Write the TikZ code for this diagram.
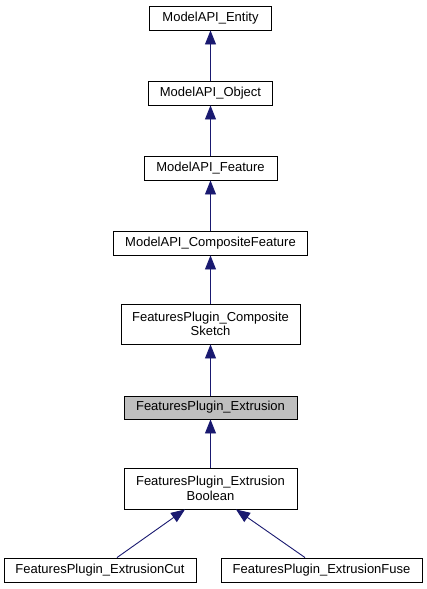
\documentclass[tikz,border=0pt]{standalone}
\usepackage{fontspec}
\setmainfont{Liberation Sans}
\usetikzlibrary{arrows.meta}
\definecolor{edgeblue}{HTML}{191970}
\definecolor{hlgray}{HTML}{BFBFBF}
\tikzset{
  cls/.style={draw=black, line width=0.9pt, fill=white, inner sep=0pt, align=center,
    font=\fontsize{13}{14.5}\selectfont},
  inh/.style={draw=edgeblue, line width=0.9pt,
    -{Triangle[length=14pt,width=11pt,fill=edgeblue]}},
}
\begin{document}
\begin{tikzpicture}[x=1pt,y=-1pt]
\useasboundingbox[fill=white] (0,0) rectangle (427,589);
\node[cls, minimum width=122pt, minimum height=24pt] (entity) at (210.5,18) {ModelAPI\_Entity};
\node[cls, minimum width=124pt, minimum height=24pt] (object) at (210.5,93) {ModelAPI\_Object};
\node[cls, minimum width=133pt, minimum height=24pt] (feature) at (210.5,168) {ModelAPI\_Feature};
\node[cls, minimum width=194pt, minimum height=24pt] (composite) at (210.5,243) {ModelAPI\_CompositeFeature};
\node[cls, minimum width=179pt, minimum height=40pt] (sketch) at (210.5,324) {FeaturesPlugin\_Composite\\Sketch};
\node[cls, fill=hlgray, minimum width=173pt, minimum height=23pt] (extrusion) at (210.5,407.5) {FeaturesPlugin\_Extrusion};
\node[cls, minimum width=173pt, minimum height=41pt] (boolean) at (210.5,488.5) {FeaturesPlugin\_Extrusion\\Boolean};
\node[cls, minimum width=192pt, minimum height=24pt] (cut) at (100,570) {FeaturesPlugin\_ExtrusionCut};
\node[cls, minimum width=201pt, minimum height=24pt] (fuse) at (321.5,570) {FeaturesPlugin\_ExtrusionFuse};
\draw[inh] (object.north) -- (entity.south);
\draw[inh] (feature.north) -- (object.south);
\draw[inh] (composite.north) -- (feature.south);
\draw[inh] (sketch.north) -- (composite.south);
\draw[inh] (extrusion.north) -- (sketch.south);
\draw[inh] (boolean.north) -- (extrusion.south);
\draw[inh] ([xshift=17pt]cut.north) -- ([xshift=-25.5pt]boolean.south);
\draw[inh] ([xshift=-16.5pt]fuse.north) -- ([xshift=25.5pt]boolean.south);
\end{tikzpicture}
\end{document}
